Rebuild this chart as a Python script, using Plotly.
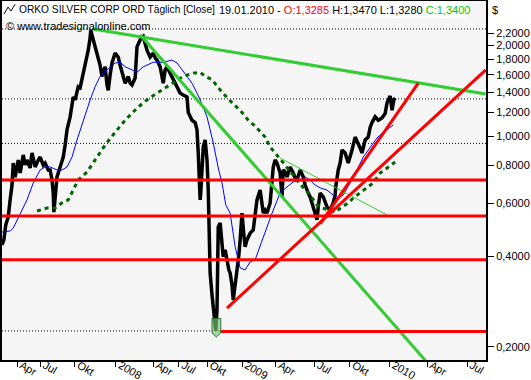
import numpy as np
import plotly.graph_objects as go

# ---------------- data (x = bar index, y = price in $) ----------------
tick_idx = [24, 61, 116, 182, 242, 283, 328, 384, 438, 500, 556, 620, 680, 744]
tick_lbl = ["Apr", "Jul", "Okt", "2008", "Apr", "Jul", "Okt", "2009", "Apr", "Jul", "Okt", "2010", "Apr", "Jul"]

y_ticks = [0.2, 0.4, 0.6, 0.8, 1.0, 1.2, 1.4, 1.6, 1.8, 2.0, 2.2]

price_idx = [0, 3, 6, 10, 13, 16, 18, 21, 26, 29, 34, 37, 40, 45, 48, 53, 58, 61, 66, 69,
             74, 77, 80, 82, 83, 86, 88, 93, 98, 101, 104, 109, 114, 117, 122, 125, 128, 133, 138, 141,
             142, 146, 149, 154, 157, 160, 163, 165, 168, 170, 173, 176, 181, 186, 189, 192, 197, 202, 205, 208,
             213, 216, 221, 226, 229, 232, 237, 242, 245, 248, 253, 256, 258, 261, 264, 269, 274, 278, 285, 290,
             296, 298, 301, 304, 309, 312, 314, 315, 317, 318, 322, 325, 328, 330, 333, 336, 338, 341, 342, 344,
             346, 349, 352, 354, 357, 360, 363, 365, 368, 370, 373, 376, 379, 381, 384, 387, 389, 392, 397, 402,
             405, 408, 413, 416, 418, 421, 424, 429, 432, 434, 437, 440, 445, 448, 450, 453, 456, 461, 466, 469,
             472, 477, 482, 485, 490, 493, 496, 501, 504, 506, 509, 514, 517, 520, 525, 530, 533, 534, 538, 541,
             544, 549, 554, 557, 560, 565, 570, 573, 576, 581, 586, 589, 592, 597, 602, 605, 608, 613, 616, 621,
             624, 627, 629]
price_val = [0.436, 0.453, 0.508, 0.540, 0.615, 0.689, 0.815, 0.732, 0.834, 0.755, 0.867, 0.803, 0.834, 0.785, 0.880, 0.791, 0.834, 0.853, 0.803, 0.815,
             0.773, 0.773, 0.716, 0.648, 0.560, 0.638, 0.733, 0.791, 0.853, 0.935, 1.05, 1.16, 1.35, 1.32, 1.46, 1.45, 1.54, 1.75, 1.93, 2.12,
             2.25, 2.09, 1.98, 1.83, 1.72, 1.58, 1.66, 1.70, 1.48, 1.42, 1.60, 1.75, 1.89, 1.83, 1.72, 1.62, 1.50, 1.58, 1.50, 1.48,
             1.56, 1.98, 2.09, 2.14, 2.01, 1.93, 1.83, 1.89, 1.82, 1.79, 1.70, 1.56, 1.50, 1.66, 1.70, 1.62, 1.54, 1.48, 1.39, 1.37,
             1.35, 1.20, 1.16, 1.13, 1.11, 1.05, 0.880, 0.773, 0.615, 0.648, 0.921, 0.972, 0.834, 0.663, 0.352, 0.298, 0.270, 0.246, 0.226, 0.265,
             0.500, 0.516, 0.453, 0.398, 0.420, 0.380, 0.360, 0.352, 0.321, 0.286, 0.321, 0.352, 0.404, 0.453, 0.556, 0.470, 0.430, 0.453, 0.477, 0.489,
             0.548, 0.615, 0.663, 0.583, 0.556, 0.569, 0.556, 0.601, 0.689, 0.791, 0.834, 0.815, 0.755, 0.629, 0.773, 0.761, 0.733, 0.791, 0.755, 0.727,
             0.716, 0.773, 0.733, 0.689, 0.648, 0.629, 0.601, 0.556, 0.528, 0.583, 0.648, 0.629, 0.601, 0.583, 0.569, 0.601, 0.638, 0.679, 0.773, 0.815,
             0.900, 0.880, 0.815, 0.853, 0.900, 0.994, 0.950, 0.914, 0.880, 0.972, 0.994, 1.07, 1.11, 1.16, 1.13, 1.14, 1.15, 1.19, 1.29, 1.36,
             1.22, 1.32, 1.34]

ma_fast_idx = [0, 13, 18, 26, 34, 40, 50, 61, 69, 77, 88, 96, 104, 112, 120, 130, 141, 149, 157, 168,
               181, 189, 197, 208, 216, 226, 242, 258, 272, 280, 290, 304, 312, 317, 328, 338, 346, 352, 358, 365,
               373, 381, 389, 397, 405, 413, 424, 434, 445, 456, 466, 477, 485, 493, 501, 509, 520, 530, 538, 546,
               557, 568, 578, 589, 600, 610, 621, 626]
ma_fast_val = [0.481, 0.485, 0.496, 0.536, 0.578, 0.615, 0.700, 0.773, 0.791, 0.791, 0.773, 0.773, 0.791, 0.853, 0.972, 1.13, 1.32, 1.46, 1.58, 1.66,
               1.75, 1.76, 1.70, 1.66, 1.63, 1.70, 1.76, 1.76, 1.79, 1.75, 1.64, 1.50, 1.39, 1.32, 1.16, 0.950, 0.785, 0.700, 0.592, 0.556,
               0.430, 0.366, 0.360, 0.383, 0.389, 0.430, 0.500, 0.569, 0.648, 0.679, 0.705, 0.716, 0.733, 0.716, 0.689, 0.674, 0.663, 0.638, 0.624, 0.638,
               0.700, 0.773, 0.853, 0.921, 0.987, 1.03, 1.07, 1.09]

ma_slow_idx = [56, 72, 85, 96, 106, 122, 136, 152, 165, 181, 197, 216, 232, 248, 264, 277, 290, 306, 317, 325,
               336, 352, 362, 370, 381, 394, 405, 421, 429, 437, 445, 453, 461, 469, 477, 485, 493, 504, 512, 525,
               533, 544, 554, 562, 573, 584, 594, 605, 616, 629]
ma_slow_val = [0.565, 0.578, 0.578, 0.601, 0.615, 0.716, 0.761, 0.853, 0.935, 1.03, 1.13, 1.24, 1.32, 1.39, 1.46, 1.52, 1.58, 1.62, 1.63, 1.58,
               1.54, 1.40, 1.33, 1.28, 1.22, 1.13, 1.08, 0.994, 0.921, 0.880, 0.847, 0.803, 0.761, 0.733, 0.695, 0.663, 0.638, 0.592, 0.578, 0.569,
               0.560, 0.583, 0.601, 0.624, 0.648, 0.674, 0.700, 0.755, 0.785, 0.821]

# drawn trend lines (start / end)
green_top_idx = [146, 774]
green_top_val = [2.27, 1.38]
green_steep_idx = [221, 685]
green_steep_val = [2.17, 0.173]
green_thin_idx = [445, 616]
green_thin_val = [0.847, 0.548]
red_a_idx = [360, 774]
red_a_val = [0.269, 1.66]
red_b_idx = [509, 666]
red_b_val = [0.512, 1.50]

red_levels = [0.716, 0.544, 0.389]
red_low_level = 0.225
red_low_start = 349
dotted_levels = [2.27, 1.33, 0.947, 0.226]

X_MAX = 774.4
Y_MIN, Y_MAX = 0.181, 2.81

FONT = "Liberation Sans, Arial, sans-serif"
GREEN = "#33cc33"
RED = "#ff0000"

fig = go.Figure()

def line(x, y, color, width, dash=None):
    fig.add_trace(go.Scatter(x=x, y=y, mode="lines",
                             line=dict(color=color, width=width, dash=dash),
                             hoverinfo="skip", showlegend=False))

# dotted reference levels
for lv in dotted_levels:
    line([0, X_MAX], [lv, lv], "#000000", 1, "1px,2px")

# price and averages
line(price_idx, price_val, "#000000", 3.5)
line(ma_fast_idx, ma_fast_val, "#0000ff", 1)
line(ma_slow_idx, ma_slow_val, "#006400", 3, "4px,4px")

# green trend lines
line(green_top_idx, green_top_val, GREEN, 3)
line(green_steep_idx, green_steep_val, GREEN, 3)
line(green_thin_idx, green_thin_val, GREEN, 1)

# red lines
for lv in red_levels:
    line([0, X_MAX], [lv, lv], RED, 3)
line([red_low_start, X_MAX], [red_low_level, red_low_level], RED, 3)
line(red_a_idx, red_a_val, RED, 3)
line(red_b_idx, red_b_val, RED, 3)

# low marker (at the lowest close)
lo = int(np.argmin(price_val))
lx, lv = price_idx[lo], price_val[lo]
fig.add_trace(go.Scatter(
    x=[lx - 6, lx + 8, lx + 8, lx + 1, lx - 6, lx - 6],
    y=[lv * 1.10, lv * 1.10, lv * 0.985, lv * 0.955, lv * 0.985, lv * 1.10],
    mode="lines", fill="toself", fillcolor="rgba(120,200,120,0.65)",
    line=dict(color="#2f6f2f", width=1), hoverinfo="skip", showlegend=False))

shapes = [
    # title box
    dict(type="rect", xref="paper", yref="paper", x0=0, x1=0.961, y0=0.9526, y1=1,
         fillcolor="#ffffff", line=dict(width=0), layer="below"),
    # small chart icon
    dict(type="path", xref="paper", yref="paper",
         path="M 0.004 0.963 L 0.0125 0.983 L 0.0185 0.972 L 0.027 0.991",
         line=dict(color="#000000", width=1)),
]

ann = [
    dict(text="ORKO SILVER CORP ORD Täglich [Close]", x=0.031, y=0.975, xref="paper", yref="paper",
         xanchor="left", yanchor="middle", showarrow=False, font=dict(family=FONT, size=10.2, color="#000")),
    dict(text="19.01.2010 - <span style='color:#ff0000'>O:1,3285</span> H:1,3470 L:1,3280 "
              "<span style='color:#00cc00'>C:1,3400</span>",
         x=0.444, y=0.975, xref="paper", yref="paper", xanchor="left", yanchor="middle",
         showarrow=False, font=dict(family=FONT, size=11, color="#000")),
    dict(text="© www.tradesignalonline.com", x=0.004, y=0.930, xref="paper", yref="paper",
         xanchor="left", yanchor="middle", showarrow=False, font=dict(family=FONT, size=11, color="#000")),
    dict(text="$", x=1.008, y=0.975, xref="paper", yref="paper", xanchor="left", yanchor="middle",
         showarrow=False, font=dict(family=FONT, size=11, color="#000")),
]

fig.update_layout(
    width=531, height=380,
    margin=dict(l=2, r=45, t=1, b=20, autoexpand=False),
    paper_bgcolor="#ffffff", plot_bgcolor="#f5f5f5",
    shapes=shapes, annotations=ann, showlegend=False,
    xaxis=dict(range=[0, X_MAX], tickvals=tick_idx, ticktext=tick_lbl, automargin=False,
               ticks="outside", ticklen=5, tickcolor="#000", tickwidth=1,
               ticklabelposition="outside right", ticklabelstandoff=-7, ticklabelshift=3,
               tickfont=dict(family=FONT, size=11, color="#000"),
               showgrid=False, zeroline=False, showline=True, mirror=True,
               linecolor="#000", linewidth=2),
    yaxis=dict(type="log", range=[np.log10(Y_MIN), np.log10(Y_MAX)], side="right", automargin=False,
               tickvals=y_ticks, ticktext=[f"{v:.4f}".replace(".", ",") for v in y_ticks],
               ticks="outside", ticklen=6, tickcolor="#000", tickwidth=1,
               tickfont=dict(family=FONT, size=11, color="#000"),
               showgrid=False, zeroline=False, showline=True, mirror=True,
               linecolor="#000", linewidth=2),
)

fig.write_html("out.html", config={"displayModeBar": False, "staticPlot": True},
               post_script="document.body.style.margin='0';document.body.style.overflow='hidden';")
